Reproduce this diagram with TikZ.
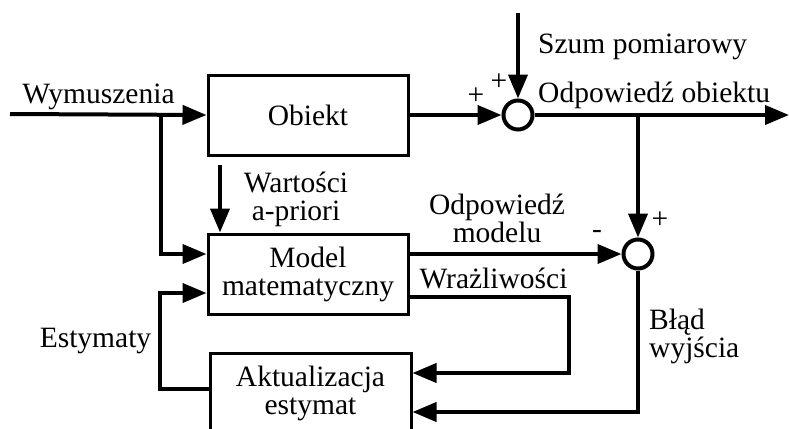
\documentclass[tikz,border=0pt]{standalone}
\usepackage{fontspec}
\setmainfont{Liberation Serif}
\usetikzlibrary{arrows.meta,calc}
\begin{document}
\begin{tikzpicture}[x=1pt,y=-1pt,
  every node/.style={font=\fontsize{29.5}{28}\selectfont, inner sep=0pt},
  blk/.style={draw, line width=3pt, minimum width=200pt, minimum height=80pt, align=center},
  sumc/.style={draw, circle, line width=4pt, minimum size=29pt},
  con/.style={line width=4pt},
  arr/.style={con, -{Triangle[length=24pt,width=19pt]}},
  lbl/.style={align=center}]
\useasboundingbox (0,0) rectangle (789,428);
\clip (0,0) rectangle (789,428);
% blocks
\node[blk] (obj) at (308,115) {Obiekt};
\node[blk] (model) at (308,274) {Model\\matematyczny};
\node[blk, minimum width=201pt] (akt) at (310.5,393) {Aktualizacja\\estymat};
\node[sumc] (sum1) at (518,115) {};
\node[sumc] (sum2) at (638,254) {};
% free ends
\coordinate (inL) at (10,114);
\coordinate (j1) at (161,114);
\coordinate (szTop) at (518,13);
\coordinate (outR) at (789,115);
\coordinate (j2) at (638,115);
\coordinate (wTop) at (220,165);
% connectors
\draw[arr] (inL) -- (obj.west);
\draw[arr] (j1) |- ([yshift=20pt]model.west);
\draw[arr] (obj.east) -- (sum1.west);
\draw[arr] (szTop) -- (sum1.north);
\draw[arr] (sum1.east) -- (outR);
\draw[arr] (j2) -- (sum2.north);
\draw[arr] (wTop) -- (wTop |- model.north);
\draw[arr] ([yshift=20pt]model.east) -- (sum2.west);
\draw[arr] ([yshift=-23pt]model.east) -- ++(159,0) |- ([yshift=20pt]akt.east);
\draw[arr] (sum2.south) |- ([yshift=-19pt]akt.east);
\draw[arr] ([yshift=4pt]akt.west) -- ++(-49,0) |- ([yshift=-19pt]model.west);
% labels
\node[anchor=base] (wym) at (98.5,103) {Wymuszenia};
\node[anchor=base west] (szum) at (538,53) {Szum pomiarowy};
\node[anchor=base west] (odpo) at (538,102) {Odpowiedź obiektu};
\node (p1) at (476,96) {+};
\node (p2) at (499,82) {+};
\node (p3) at (660,220) {+};
\node (m1) at (597,234) {-};
\node[lbl, anchor=base] (odpm) at (497,242) {Odpowiedź\\modelu};
\node[lbl, anchor=base] (war) at (296,220) {Wartości\\a-priori};
\node[anchor=base] (wraz) at (493.5,288) {Wrażliwości};
\node[align=left, anchor=base west] (blad) at (649,357) {Błąd\\wyjścia};
\node[anchor=base] (est) at (95.5,347) {Estymaty};
\end{tikzpicture}
\end{document}
